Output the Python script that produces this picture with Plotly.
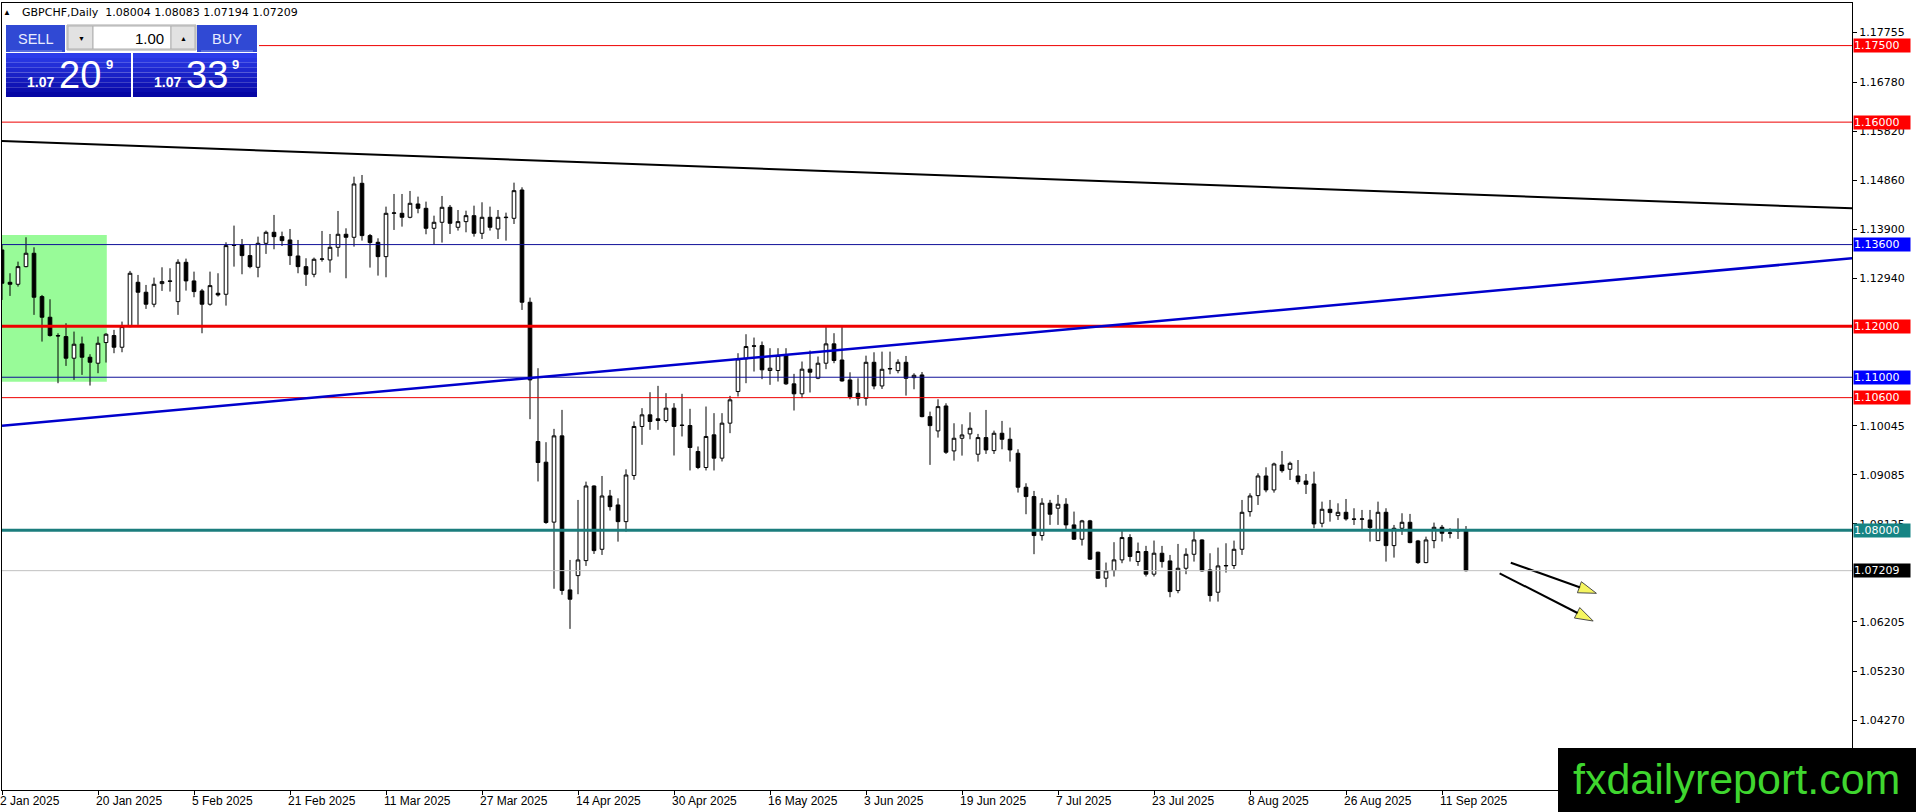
"""
GBPCHF daily chart, MetaTrader look: candles, support/resistance levels,
trend lines, trade panel and watermark.
"""
import plotly.graph_objects as go

# ── Data: daily bars, bar 0 = 2 Jan 2025 (x axis uses the bar number) ───────
opens = [
    1.13495, 1.12861, 1.12822, 1.13168, 1.13430, 1.12581, 1.12176, 1.11817, 1.11797, 1.11373,
    1.11653, 1.11392, 1.11275, 1.11680, 1.11817, 1.11588, 1.11993, 1.12861, 1.12666, 1.12431,
    1.12835, 1.12888, 1.12483, 1.13253, 1.12888, 1.12692, 1.12431, 1.12646, 1.12626, 1.13593,
    1.13593, 1.13384, 1.13155, 1.13625, 1.13841, 1.13756, 1.13691, 1.13377, 1.13168, 1.13018,
    1.13312, 1.13299, 1.13547, 1.13802, 1.13743, 1.14801, 1.13776, 1.13645, 1.13364, 1.14213,
    1.14213, 1.14135, 1.14396, 1.14311, 1.13919, 1.14037, 1.14331, 1.13939, 1.14050, 1.14167,
    1.13821, 1.14135, 1.13906, 1.14128, 1.14115, 1.14670, 1.12470, 1.09740, 1.09335, 1.08160,
    1.09851, 1.06832, 1.07112, 1.07406, 1.08869, 1.07628, 1.08673, 1.08497, 1.08170, 1.09075,
    1.10035, 1.10263, 1.10185, 1.10152, 1.10394, 1.10054, 1.10054, 1.09545, 1.09231, 1.09871,
    1.09414, 1.10100, 1.10720, 1.11360, 1.11615, 1.11621, 1.11132, 1.11132, 1.11439, 1.10870,
    1.10675, 1.11158, 1.10981, 1.11275, 1.11654, 1.11338, 1.10947, 1.10685, 1.10588, 1.11293,
    1.10829, 1.11162, 1.11130, 1.11293, 1.10992, 1.11045, 1.10228, 1.09948, 1.10437, 1.09556,
    1.09804, 1.09889, 1.09491, 1.09817, 1.09562, 1.09902, 1.09784, 1.09510, 1.08844, 1.08661,
    1.07897, 1.08531, 1.08433, 1.08511, 1.08106, 1.07825, 1.08185, 1.07571, 1.07061, 1.07211,
    1.07420, 1.07858, 1.07388, 1.07584, 1.07140, 1.07550, 1.07400, 1.06819, 1.07256, 1.07530,
    1.07811, 1.07224, 1.06786, 1.07302, 1.07309, 1.07628, 1.08366, 1.08680, 1.09065, 1.08791,
    1.09280, 1.09196, 1.09065, 1.08967, 1.08908, 1.08138, 1.08412, 1.08288, 1.08353, 1.08223,
    1.08216, 1.08203, 1.07798, 1.08353, 1.07700, 1.08040, 1.08157, 1.07792, 1.07367, 1.07798,
    1.08059, 1.07942, 1.08007, 1.08004,
]
highs = [
    1.13593, 1.13038, 1.13266, 1.13743, 1.13547, 1.12613, 1.12528, 1.11862, 1.12058, 1.11895,
    1.11797, 1.11451, 1.11797, 1.11862, 1.11928, 1.12091, 1.13084, 1.13005, 1.12809, 1.12953,
    1.13155, 1.13136, 1.13312, 1.13325, 1.13070, 1.12731, 1.13070, 1.13038, 1.13645, 1.13972,
    1.13710, 1.13593, 1.13756, 1.13874, 1.14181, 1.13854, 1.13906, 1.13691, 1.13332, 1.13345,
    1.13867, 1.13808, 1.14259, 1.13919, 1.14931, 1.14964, 1.13808, 1.13723, 1.14344, 1.14592,
    1.14592, 1.14651, 1.14540, 1.14442, 1.14167, 1.14553, 1.14376, 1.14278, 1.14265, 1.14363,
    1.14429, 1.14344, 1.14278, 1.14226, 1.14814, 1.14723, 1.12561, 1.11177, 1.09727, 1.09988,
    1.10360, 1.07419, 1.08595, 1.08954, 1.08880, 1.09065, 1.08791, 1.08627, 1.09195, 1.10133,
    1.10394, 1.10707, 1.10831, 1.10688, 1.10492, 1.10675, 1.10381, 1.09643, 1.10426, 1.10296,
    1.10296, 1.10635, 1.11471, 1.11843, 1.11778, 1.11700, 1.11569, 1.11569, 1.11569, 1.11066,
    1.11308, 1.11523, 1.11406, 1.12013, 1.11863, 1.11991, 1.11097, 1.10979, 1.11423, 1.11489,
    1.11502, 1.11502, 1.11352, 1.11417, 1.11077, 1.11103, 1.10326, 1.10568, 1.10490, 1.10098,
    1.10078, 1.10313, 1.09889, 1.10359, 1.09954, 1.10144, 1.10013, 1.09588, 1.08922, 1.08772,
    1.08629, 1.08596, 1.08694, 1.08629, 1.08367, 1.08204, 1.08204, 1.07580, 1.07368, 1.07767,
    1.08021, 1.07923, 1.07760, 1.07695, 1.07799, 1.07694, 1.07517, 1.07733, 1.07648, 1.07994,
    1.07824, 1.07550, 1.07661, 1.07746, 1.07798, 1.08595, 1.08725, 1.09117, 1.09235, 1.09326,
    1.09555, 1.09346, 1.09378, 1.09104, 1.09150, 1.08562, 1.08595, 1.08529, 1.08614, 1.08432,
    1.08399, 1.08399, 1.08562, 1.08432, 1.08105, 1.08334, 1.08321, 1.07811, 1.07876, 1.08151,
    1.08105, 1.08040, 1.08236, 1.08083,
]
lows = [
    1.12515, 1.12594, 1.12777, 1.13155, 1.12222, 1.11699, 1.11797, 1.10883, 1.11222, 1.10948,
    1.11046, 1.10837, 1.11079, 1.11288, 1.11471, 1.11490, 1.11980, 1.12026, 1.12339, 1.12372,
    1.12692, 1.12679, 1.12222, 1.12698, 1.12568, 1.11862, 1.12404, 1.12581, 1.12404, 1.13168,
    1.13018, 1.13136, 1.12959, 1.13417, 1.13508, 1.13573, 1.13201, 1.13038, 1.12790, 1.12959,
    1.13266, 1.13051, 1.13364, 1.12940, 1.13560, 1.13678, 1.13149, 1.12992, 1.12959, 1.13887,
    1.13952, 1.14115, 1.14213, 1.13802, 1.13593, 1.13639, 1.13808, 1.13874, 1.13841, 1.13756,
    1.13710, 1.13874, 1.13710, 1.13678, 1.14004, 1.12319, 1.10178, 1.08957, 1.08127, 1.06854,
    1.06736, 1.06068, 1.06747, 1.07302, 1.07537, 1.07517, 1.08386, 1.07778, 1.07974, 1.08990,
    1.09675, 1.09969, 1.09969, 1.10113, 1.09466, 1.09839, 1.09173, 1.09199, 1.09173, 1.09173,
    1.09349, 1.09904, 1.10622, 1.10883, 1.11112, 1.10962, 1.10851, 1.10916, 1.10851, 1.10348,
    1.10590, 1.10701, 1.10962, 1.11158, 1.11275, 1.10914, 1.10568, 1.10444, 1.10444, 1.10764,
    1.10770, 1.11058, 1.11077, 1.10640, 1.10764, 1.10215, 1.09282, 1.09817, 1.09497, 1.09366,
    1.09464, 1.09784, 1.09347, 1.09497, 1.09497, 1.09588, 1.09347, 1.08740, 1.08315, 1.07532,
    1.07799, 1.08106, 1.08106, 1.08008, 1.07812, 1.07701, 1.07420, 1.07050, 1.06885, 1.07094,
    1.07355, 1.07388, 1.07303, 1.07094, 1.07094, 1.07269, 1.06688, 1.06766, 1.07139, 1.07387,
    1.07191, 1.06603, 1.06603, 1.07171, 1.07243, 1.07517, 1.08268, 1.08497, 1.08745, 1.08738,
    1.09130, 1.08987, 1.08902, 1.08712, 1.08040, 1.08059, 1.08170, 1.08203, 1.08190, 1.08105,
    1.08020, 1.07779, 1.07798, 1.07387, 1.07465, 1.07909, 1.07746, 1.07341, 1.07354, 1.07648,
    1.07779, 1.07844, 1.07831, 1.07194,
]
closes = [
    1.12842, 1.12822, 1.13168, 1.13430, 1.12568, 1.12176, 1.11817, 1.11810, 1.11373, 1.11647,
    1.11392, 1.11294, 1.11666, 1.11843, 1.11588, 1.11993, 1.13038, 1.12666, 1.12431, 1.12822,
    1.12875, 1.12880, 1.13253, 1.12888, 1.12679, 1.12431, 1.12796, 1.12613, 1.13580, 1.13586,
    1.13384, 1.13168, 1.13625, 1.13841, 1.13756, 1.13678, 1.13384, 1.13168, 1.13018, 1.13312,
    1.13318, 1.13547, 1.13802, 1.13743, 1.14788, 1.13776, 1.13639, 1.13364, 1.14213, 1.14220,
    1.14135, 1.14409, 1.14311, 1.13919, 1.14037, 1.14331, 1.14017, 1.14050, 1.14167, 1.13821,
    1.14135, 1.13939, 1.14135, 1.14135, 1.14657, 1.12470, 1.10948, 1.09329, 1.08153, 1.09851,
    1.06821, 1.06649, 1.07419, 1.08869, 1.07602, 1.08673, 1.08464, 1.08170, 1.09084, 1.10035,
    1.10263, 1.10133, 1.10152, 1.10394, 1.10035, 1.10060, 1.09623, 1.09231, 1.09839, 1.09414,
    1.10100, 1.10557, 1.11360, 1.11602, 1.11609, 1.11145, 1.11177, 1.11425, 1.10870, 1.10675,
    1.11158, 1.11099, 1.11275, 1.11654, 1.11328, 1.10927, 1.10620, 1.10588, 1.11293, 1.10829,
    1.11156, 1.11169, 1.11293, 1.10979, 1.11038, 1.10228, 1.10052, 1.10424, 1.09530, 1.09804,
    1.09869, 1.10000, 1.09817, 1.09575, 1.09902, 1.09784, 1.09575, 1.08844, 1.08661, 1.07897,
    1.08531, 1.08315, 1.08511, 1.08106, 1.07825, 1.08185, 1.07434, 1.07061, 1.07205, 1.07420,
    1.07858, 1.07486, 1.07584, 1.07140, 1.07551, 1.07387, 1.06799, 1.07256, 1.07530, 1.07811,
    1.07204, 1.06721, 1.07302, 1.07309, 1.07628, 1.08353, 1.08673, 1.09065, 1.08791, 1.09300,
    1.09169, 1.09313, 1.08954, 1.08902, 1.08125, 1.08412, 1.08347, 1.08353, 1.08223, 1.08216,
    1.08223, 1.08053, 1.08353, 1.07700, 1.08040, 1.08157, 1.07759, 1.07367, 1.07811, 1.08059,
    1.07942, 1.07949, 1.07988, 1.07209,
]

date_ticks = [0, 12, 24, 36, 48, 60, 72, 84, 96, 108, 120, 132, 144, 156, 168, 180]
date_labels = [
    "2 Jan 2025", "20 Jan 2025", "5 Feb 2025", "21 Feb 2025", "11 Mar 2025",
    "27 Mar 2025", "14 Apr 2025", "30 Apr 2025", "16 May 2025", "3 Jun 2025",
    "19 Jun 2025", "7 Jul 2025", "23 Jul 2025", "8 Aug 2025", "26 Aug 2025",
    "11 Sep 2025",
]
price_ticks = [1.17755, 1.16780, 1.15820, 1.14860, 1.13900, 1.12940,
               1.10045, 1.09085, 1.08125, 1.06205, 1.05230, 1.04270]

# horizontal levels: price, line colour, line width, label colour
level_prices = [1.17500, 1.16000, 1.13600, 1.12000, 1.11000, 1.10600, 1.08000]
level_colors = ["#ee0000", "#ee0000", "#101098", "#ee0000", "#101098", "#ee0000", "#1b7d7d"]
level_widths = [1, 1, 1, 3, 1, 1, 3]
label_colors = ["#ff0000", "#ff0000", "#0000ff", "#ff0000", "#0000ff", "#ff0000", "#168484"]
bid_price = 1.07209

# trend lines (bar number, price)
trend_x = [0, 231.25]
black_trend = [1.1563, 1.1431]
blue_trend = [1.1005, 1.1333]

# green zone at the start of the year
zone_x = [0, 13.1]
zone_y = [1.10913, 1.13788]

# yellow arrows: start -> tip
arrow_x = [[188.6, 199.3], [187.2, 198.9]]
arrow_y = [[1.07365, 1.06765], [1.07157, 1.06222]]

# ── Geometry ───────────────────────────────────────────────────────────────
W, H = 1916, 812
L, R, T, B = 2, 64, 3, 22
PW, PH = W - L - R, H - T - B


def fx(px):
    return (px - L) / PW


def fy(py):
    return (H - B - py) / PH


def blend(c1, c2, t):
    a = [int(c1[i:i + 2], 16) for i in (1, 3, 5)]
    b = [int(c2[i:i + 2], 16) for i in (1, 3, 5)]
    return "#" + "".join(f"{round(a[k] + (b[k] - a[k]) * t):02x}" for k in range(3))


SANS = "Liberation Sans, Arial, sans-serif"
DEJAVU = "DejaVu Sans, Verdana, sans-serif"

fig = go.Figure()

fig.add_trace(go.Candlestick(
    x=list(range(len(opens))),
    open=opens, high=highs, low=lows, close=closes,
    increasing=dict(line=dict(color="black", width=1), fillcolor="white"),
    decreasing=dict(line=dict(color="black", width=1), fillcolor="black"),
    whiskerwidth=0,
    showlegend=False,
    hoverinfo="skip",
))

for ax, ay in zip(arrow_x, arrow_y):
    fig.add_trace(go.Scatter(
        x=ax, y=ay, mode="lines+markers",
        line=dict(color="black", width=2),
        marker=dict(symbol="arrow", size=[0, 19], angleref="previous",
                    color="#f2f21e", line=dict(color="black", width=1)),
        showlegend=False, hoverinfo="skip",
    ))

shapes = []
# green zone (background)
shapes.append(dict(type="rect", xref="x", yref="y", x0=zone_x[0], x1=zone_x[1],
                   y0=zone_y[0], y1=zone_y[1], fillcolor="#98fb98",
                   line=dict(width=0), layer="below"))
# bid line
shapes.append(dict(type="line", xref="paper", yref="y", x0=0, x1=1,
                   y0=bid_price, y1=bid_price, line=dict(color="#c0c0c0", width=1)))
for p, c, w in zip(level_prices, level_colors, level_widths):
    shapes.append(dict(type="line", xref="paper", yref="y", x0=0, x1=1, y0=p, y1=p,
                       line=dict(color=c, width=w)))
shapes.append(dict(type="line", xref="x", yref="y", x0=trend_x[0], x1=trend_x[1],
                   y0=black_trend[0], y1=black_trend[1], line=dict(color="black", width=2)))
shapes.append(dict(type="line", xref="x", yref="y", x0=trend_x[0], x1=trend_x[1],
                   y0=blue_trend[0], y1=blue_trend[1], line=dict(color="#0000cc", width=2.5)))


def rect(x0, y0, x1, y1, fill, line=None):
    shapes.append(dict(type="rect", xref="paper", yref="paper",
                       x0=fx(x0), x1=fx(x1), y0=fy(y1), y1=fy(y0), fillcolor=fill,
                       line=dict(width=1, color=line) if line else dict(width=0),
                       layer="above"))


# ── Trade panel ────────────────────────────────────────────────────────────
rect(2, 23, 259, 98, "white")
rect(6, 25, 65, 52, "#3049d4")
rect(197, 25, 257, 52, "#3049d4")
for x0, x1 in [(10, 62), (201, 253)]:
    shapes.append(dict(type="line", xref="paper", yref="paper", x0=fx(x0), x1=fx(x1),
                       y0=fy(51), y1=fy(51), line=dict(color="#8090e8", width=1)))
rect(67, 25, 196, 50, "#f0f0f0", "#a8a8a8")
rect(68, 26, 93, 49, "#e2e2e2", "#b0b0b0")
rect(93, 26, 171, 49, "white", "#b0b0b0")
rect(171, 26, 195, 49, "#e2e2e2", "#b0b0b0")
n_bands = 9
for k in range(n_bands):
    y0 = 53 + k * 44 / n_bands
    y1 = 53 + (k + 1) * 44 / n_bands
    col = blend("#2c3cea", "#0606a4", k / (n_bands - 1))
    rect(6, y0, 131, y1, col)
    rect(133, y0, 257, y1, col)

# watermark box
rect(1558, 748, 1917, 813, "black")

annotations = []


def text(x, y, s, size, color="black", family=SANS, anchor="center"):
    annotations.append(dict(xref="paper", yref="paper", x=fx(x), y=fy(y), text=s,
                            showarrow=False, xanchor=anchor, yanchor="middle",
                            font=dict(size=size, color=color, family=family)))


text(7, 12, "▲", 8)
text(20, 12, "GBPCHF,Daily  1.08004 1.08083 1.07194 1.07209", 11, family=DEJAVU,
     anchor="left")
text(35.5, 39, "SELL", 14.5, "#e8ecff")
text(227, 39, "BUY", 14.5, "#e8ecff")
text(81, 38, "▼", 7)
text(183, 38, "▲", 7)
text(166, 38, "1.00", 15, anchor="right")
for x_small, x_big, x_sup, big in [(40.5, 80, 109, "20"), (167.5, 206.5, 235.5, "33")]:
    text(x_small, 82, "<b>1.07</b>", 14, "white")
    text(x_big, 75, big, 38, "white")
    text(x_sup, 64, "<b>9</b>", 13, "white")

text(1736, 779, "fxdailyreport.com", 43, "#3fd62f")

# level labels on the price axis
for p, c in zip(level_prices + [bid_price], label_colors + ["#000000"]):
    annotations.append(dict(xref="paper", yref="y", x=1, y=p, xanchor="left",
                            yanchor="middle", xshift=1, text=f"{p:.5f}", showarrow=False,
                            bgcolor=c, width=56, align="left", borderpad=0,
                            font=dict(size=11, color="white", family=DEJAVU)))

fig.update_layout(
    width=W, height=H,
    margin=dict(l=L, r=R, t=T, b=B, autoexpand=False),
    paper_bgcolor="white", plot_bgcolor="white",
    shapes=shapes, annotations=annotations,
    showlegend=False,
    boxgap=0.35,
    xaxis=dict(
        range=[0, 231.25], rangeslider=dict(visible=False),
        tickvals=date_ticks, ticktext=date_labels,
        ticks="outside", ticklen=4, tickcolor="black",
        ticklabelposition="outside right", ticklabelshift=-3,
        tickfont=dict(size=12, color="black", family=SANS),
        showline=True, mirror=True, linecolor="black", linewidth=1,
        showgrid=False, zeroline=False,
    ),
    yaxis=dict(
        side="right", range=[1.0291, 1.18335],
        tickvals=price_ticks, ticktext=[f"{v:.5f}" for v in price_ticks],
        ticks="outside", ticklen=4, tickcolor="black",
        tickfont=dict(size=11, color="black", family=DEJAVU),
        showline=True, mirror=True, linecolor="black", linewidth=1,
        showgrid=False, zeroline=False,
    ),
)

# the page body keeps its default 8px margin otherwise
fig.write_html("out.html", config={"displayModeBar": False},
               post_script="document.body.style.margin='0';")
